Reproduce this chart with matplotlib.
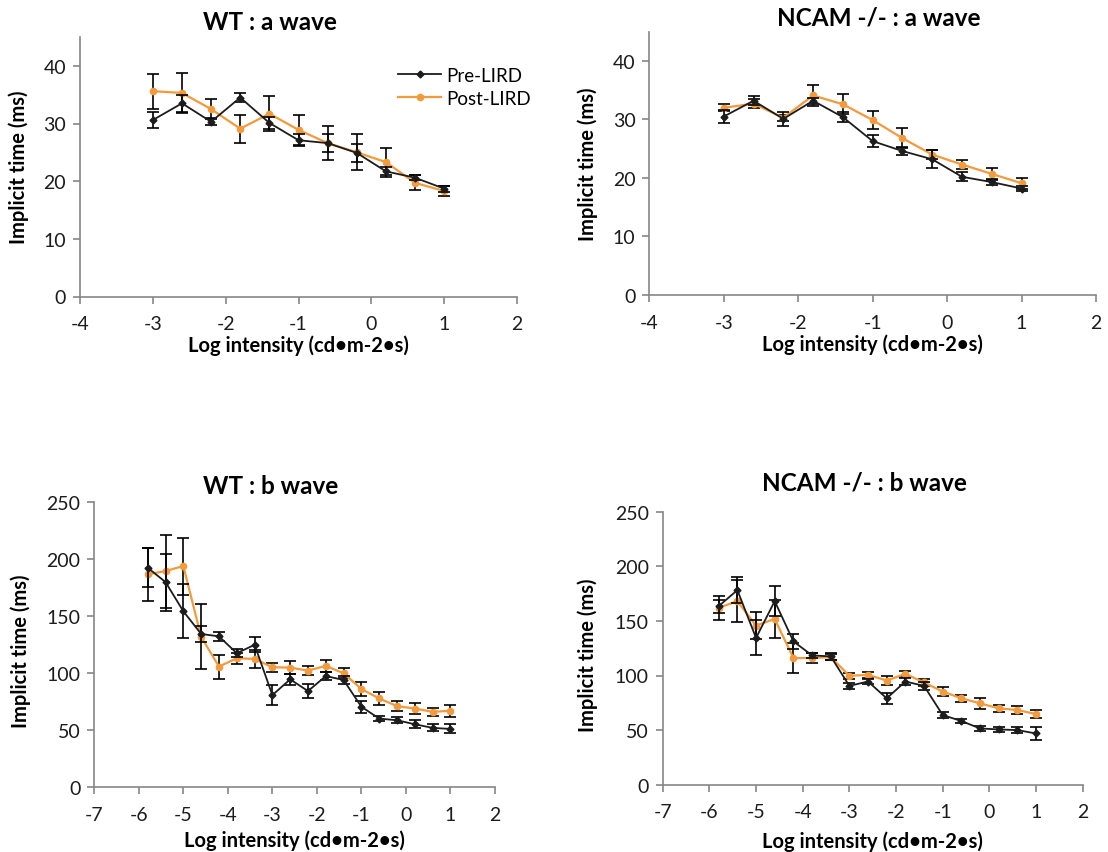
import matplotlib
matplotlib.use("Agg")
import matplotlib.pyplot as plt

plt.rcParams['font.family'] = ['Lato', 'DejaVu Sans']
plt.rcParams['axes.unicode_minus'] = False

# log flash intensities
x_a = [-3.0, -2.6, -2.2, -1.8, -1.4, -1.0, -0.6, -0.2, 0.2, 0.6, 1.0]
x_b = [-5.8, -5.4, -5.0, -4.6, -4.2, -3.8, -3.4, -3.0, -2.6, -2.2,
       -1.8, -1.4, -1.0, -0.6, -0.2, 0.2, 0.6, 1.0]

# WT a wave implicit time (ms)
wt_a_pre = [30.6, 33.5, 30.3, 34.5, 30.1, 27.1, 26.6, 24.9, 21.7, 20.6, 18.7]
wt_a_pre_err = [1.4, 1.5, 0.6, 0.8, 1.0, 1.0, 1.5, 1.6, 0.7, 0.4, 0.5]
wt_a_post = [35.6, 35.3, 32.5, 29.1, 31.7, 28.9, 26.6, 25.0, 23.3, 19.7, 18.3]
wt_a_post_err = [3.0, 3.5, 1.7, 2.4, 3.0, 2.6, 3.0, 3.1, 2.5, 1.3, 0.9]

# NCAM -/- a wave
nc_a_pre = [30.5, 33.2, 30.1, 33.2, 30.4, 26.3, 24.6, 23.2, 20.2, 19.3, 18.2]
nc_a_pre_err = [1.1, 0.75, 1.2, 0.5, 0.9, 1.0, 0.75, 1.5, 0.75, 0.5, 0.4]
nc_a_post = [32.0, 32.7, 30.3, 34.1, 32.6, 29.9, 26.8, 24.0, 22.3, 20.7, 19.1]
nc_a_post_err = [0.6, 0.8, 0.5, 1.8, 1.7, 1.5, 1.7, 0.8, 0.8, 1.0, 0.9]

# WT b wave
wt_b_pre = [192.6, 180.0, 154.4, 134.5, 132.4, 117.6, 125.0, 80.9, 94.7, 84.4,
            97.6, 94.1, 70.6, 60.3, 58.8, 55.3, 52.1, 51.2]
wt_b_pre_err = [17, 25, 23.5, 7, 4, 3.5, 6.5, 8.5, 5, 6,
                3.5, 3.5, 5, 2, 2.5, 3.5, 3, 4]
wt_b_post = [186.8, 189.7, 194.1, 132.0, 105.9, 113.2, 112.6, 105.3, 105.0, 102.4,
             106.5, 100.0, 86.2, 77.9, 71.2, 69.1, 66.2, 67.1]
wt_b_post_err = [23, 32, 25, 28.5, 10.5, 5, 8, 4, 5.5, 4,
                 5, 4.5, 6, 6, 4.5, 5, 3.5, 5.5]

# NCAM -/- b wave
nc_b_pre = [163.5, 178.2, 134.4, 168.1, 131.3, 118.4, 117.5, 90.5, 94.5, 79.1,
            94.5, 90.5, 63.8, 58.3, 51.5, 50.6, 50.0, 46.9]
nc_b_pre_err = [6, 12, 16, 14, 7, 2.5, 3.5, 3, 2, 5,
                3.5, 4, 2.5, 1.5, 2, 2, 3, 6]
nc_b_post = [162.0, 168.1, 145.7, 151.8, 116.0, 116.0, 116.9, 99.7, 100.6, 95.4,
             101.5, 93.6, 85.3, 79.1, 74.5, 69.9, 68.4, 64.7]
nc_b_post_err = [11, 19, 12, 17.5, 14, 5, 3, 3, 2.5, 4,
                 3, 3, 4, 3, 5, 3.5, 4, 4]

W, H = 1108, 853
GRAY = '#868686'
ORANGE = '#F39A3D'
DARK = '#1c1c1c'


def px_axes(fig, left, right, top, bottom):
    return fig.add_axes([left / W, 1 - bottom / H, (right - left) / W, (bottom - top) / H])


def draw(ax, x, pre, pre_err, post, post_err, xlim, ylim, yticks):
    ax.errorbar(x, pre, yerr=pre_err, color=DARK, ecolor='black', lw=1.3,
                elinewidth=1.2, capsize=4.5, capthick=1.2, marker='D', ms=3.5,
                label='Pre-LIRD', zorder=3)
    ax.errorbar(x, post, yerr=post_err, color=ORANGE, ecolor='black', lw=1.6,
                elinewidth=1.2, capsize=4.5, capthick=1.2, marker='o', ms=4.5,
                label='Post-LIRD', zorder=2)
    ax.set_xlim(*xlim)
    ax.set_ylim(*ylim)
    ax.set_xticks(range(xlim[0], xlim[1] + 1))
    ax.set_yticks(yticks)
    for s in ['top', 'right']:
        ax.spines[s].set_visible(False)
    for s in ['left', 'bottom']:
        ax.spines[s].set_color(GRAY)
        ax.spines[s].set_linewidth(1.2)
    ax.tick_params(axis='both', direction='out', length=5, width=1.2, color=GRAY,
                   labelsize=14, labelcolor=DARK)
    ax.tick_params(axis='x', pad=8.5)
    ax.tick_params(axis='y', pad=5)


fig = plt.figure(figsize=(W / 100, H / 100), dpi=100)

ax1 = px_axes(fig, 80, 517, 38, 297.5)
draw(ax1, x_a, wt_a_pre, wt_a_pre_err, wt_a_post, wt_a_post_err, (-4, 2), (0, 45), range(0, 41, 10))
ax2 = px_axes(fig, 649.3, 1096, 32.7, 296)
draw(ax2, x_a, nc_a_pre, nc_a_pre_err, nc_a_post, nc_a_post_err, (-4, 2), (0, 45), range(0, 41, 10))
ax3 = px_axes(fig, 94.3, 495, 503.3, 788.3)
draw(ax3, x_b, wt_b_pre, wt_b_pre_err, wt_b_post, wt_b_post_err, (-7, 2), (0, 250), range(0, 251, 50))
ax4 = px_axes(fig, 662.7, 1082.7, 512.7, 785.7)
draw(ax4, x_b, nc_b_pre, nc_b_pre_err, nc_b_post, nc_b_post_err, (-7, 2), (0, 250), range(0, 251, 50))

# legend only in the first panel, lines without error bars
h, l = ax1.get_legend_handles_labels()
handles = [hh[0] for hh in h]
ax1.legend(handles, l, loc='upper left', bbox_to_anchor=((398 - 80) / 437, (297.5 - 68) / 259.5),
           frameon=False, fontsize=13.5, handlelength=2.3, handletextpad=0.3,
           labelspacing=0.3, borderpad=0, borderaxespad=0)

titles = [("WT : a wave", 270, 23), ("NCAM -/- : a wave", 879, 18),
          ("WT : b wave", 271, 487), ("NCAM -/- : b wave", 864, 483)]
for t, x, y in titles:
    fig.text(x / W, 1 - y / H, t, ha='center', va='center', fontsize=17.5, fontweight='bold', color='black')

ylabels = [(19, 167), (588, 164), (21, 651), (588, 655)]
for x, y in ylabels:
    fig.text(x / W, 1 - y / H, "Implicit time (ms)", ha='center', va='center', rotation=90,
             fontsize=14.5, fontweight='bold', color='black')

xlabels = [(298.5, 346), (872.7, 345), (294.6, 841), (872.7, 842)]
for x, y in xlabels:
    fig.text(x / W, 1 - y / H, "Log intensity (cd\u2022m-2\u2022s)", ha='center', va='center',
             fontsize=14.5, fontweight='bold', color='black')

fig.savefig('out.png', dpi=100)
